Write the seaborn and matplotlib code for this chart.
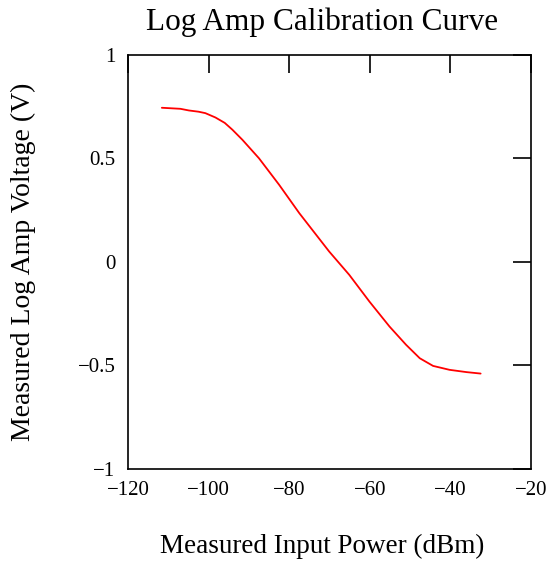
import numpy as np
import pandas as pd
import matplotlib.pyplot as plt
import matplotlib.ticker as mticker
import seaborn as sns

# values
power_dbm = [-111.6, -107.0, -104.9, -102.5, -100.8, -98.3, -96.0, -94.1, -91.6,
             -87.5, -82.5, -77.5, -70.1, -65.1, -60.1, -55.1, -51.0, -47.6,
             -44.3, -40.2, -36.0, -32.5]
voltage_v = [0.745, 0.740, 0.732, 0.726, 0.719, 0.698, 0.672, 0.639, 0.590,
             0.501, 0.373, 0.236, 0.051, -0.062, -0.191, -0.312, -0.400, -0.465,
             -0.502, -0.521, -0.532, -0.539]

x_ticks = [-120, -100, -80, -60, -40, -20]
y_ticks = [-1, -0.5, 0, 0.5, 1]

sns.set_style("white")
plt.rcParams["font.family"] = ["Liberation Serif", "DejaVu Serif"]
plt.rcParams["text.color"] = "black"
plt.rcParams["axes.labelcolor"] = "black"

df = pd.DataFrame({"power": power_dbm, "voltage": voltage_v})

fig = plt.figure(figsize=(5.51, 5.61), dpi=100)
ax = fig.add_axes([0.2323, 0.164, 0.7314, 0.738])

sns.lineplot(data=df, x="power", y="voltage", color="#FF0000",
             linewidth=1.3, ax=ax)

ax.set_xlim(-120, -20)
ax.set_ylim(-1, 1)
ax.set_xticks(x_ticks)
ax.set_yticks(y_ticks)
ax.yaxis.set_major_formatter(mticker.FuncFormatter(lambda v, p: f"{v:g}".replace("-", "\u2212")))

ax.tick_params(direction="in", length=13, width=1.2, top=True, right=True,
               labelsize=15, colors="black", pad=9)
for spine in ax.spines.values():
    spine.set_linewidth(1.2)
    spine.set_color("black")

ax.set_title("Log Amp Calibration Curve", fontsize=22.5, pad=18, x=0.482)
ax.set_xlabel("Measured Input Power (dBm)", fontsize=19.5, labelpad=24, x=0.482)
ax.set_ylabel("Measured Log Amp Voltage (V)", fontsize=20, labelpad=30)

fig.savefig("out.png", dpi=100)
